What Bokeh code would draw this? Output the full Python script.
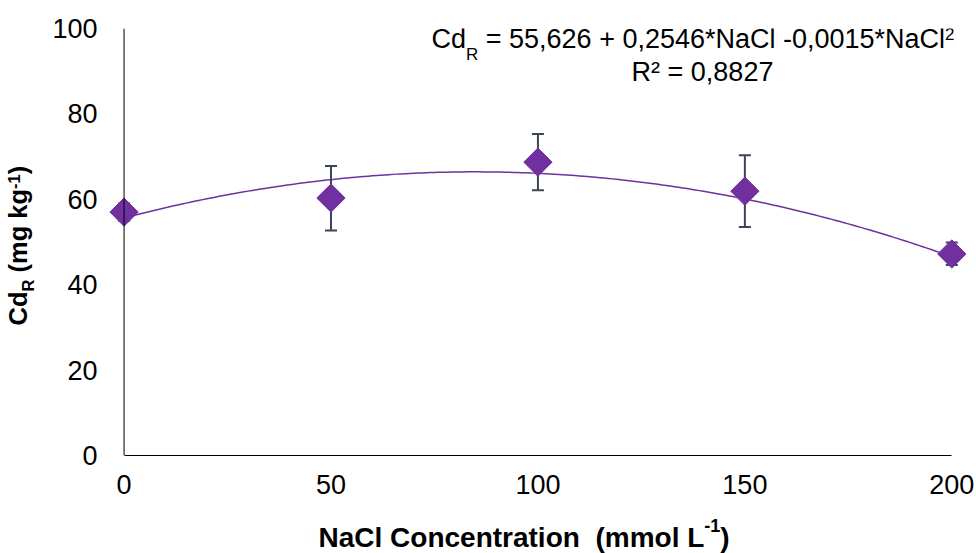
import numpy as np
from bokeh.plotting import figure
from bokeh.layouts import row, column
from bokeh.models import FixedTicker, Label, Span
from bokeh.embed import file_html
from bokeh.resources import INLINE

# ---- data ----
nacl = [0, 50, 100, 150, 200]
cd_r = [57.0, 60.3, 68.7, 61.9, 47.2]
err_low = [55.0, 52.7, 62.1, 53.5, 44.6]
err_high = [59.0, 67.8, 75.3, 70.3, 49.9]
x_ticks = [0, 50, 100, 150, 200]
y_ticks = [0, 20, 40, 60, 80, 100]
# quadratic trend line as printed on the chart
coef_a, coef_b, coef_c = 55.626, 0.2546, -0.0015
r2_text = "R² = 0,8827"
eq_text = "= 55,626 + 0,2546*NaCl -0,0015*NaCl"

PURPLE = "#7030A0"
ERR = "#3B4556"
FONT = "Liberation Sans"
BASE_FIX = 0.3       # em shift so that the label anchor sits on the baseline

PAGE_W, PAGE_H = 976, 553
LEFT_W = 42          # strip holding the y title
MAIN_H = 510         # main figure height; strip below holds the x title
W, H = PAGE_W - LEFT_W, MAIN_H
BL, BR, BT, BB = 65, 4, 28, 55
XR = (-4, 205)
YR = (0, 100)

p = figure(width=W, height=H, x_range=XR, y_range=YR,
           output_backend="svg", toolbar_location=None,
           min_border_left=BL, min_border_right=BR,
           min_border_top=BT, min_border_bottom=BB)
p.outline_line_color = None
p.xgrid.visible = False
p.ygrid.visible = False
p.background_fill_color = "white"
p.border_fill_color = "white"

fw = W - BL - BR
fh = H - BT - BB
sx = fw / (XR[1] - XR[0])
sy = fh / (YR[1] - YR[0])


def dx(px):
    return (px - LEFT_W - BL) / sx + XR[0]


def dy(py):
    return (H - BB - py) / sy + YR[0]


# trend line
xs = np.linspace(0, 200, 201)
ys = coef_a + coef_b * xs + coef_c * xs ** 2
p.line(xs, ys, line_color=PURPLE, line_width=1.5)

# error bars
p.segment(x0=nacl, y0=err_low, x1=nacl, y1=err_high, line_color=ERR, line_width=2)
p.scatter(x=nacl + nacl, y=err_low + err_high, marker="dash", size=12,
          line_color=ERR, line_width=2)

# diamonds
p.scatter(x=nacl, y=cd_r, marker="square", angle=np.pi / 4, size=20,
          fill_color=PURPLE, line_color=PURPLE)

# axes
p.xaxis.ticker = FixedTicker(ticks=x_ticks)
p.yaxis.ticker = FixedTicker(ticks=y_ticks)
for ax in (p.xaxis[0], p.yaxis[0]):
    ax.major_tick_line_color = None
    ax.minor_tick_line_color = None
    ax.major_tick_out = 0
    ax.major_tick_in = 0
    ax.minor_tick_out = 0
    ax.major_label_text_font = FONT
    ax.major_label_text_font_size = "27px"
    ax.major_label_text_color = "black"
p.xaxis.bounds = (0, 200)
p.xaxis.axis_line_color = "black"
p.xaxis.axis_line_width = 1
p.xaxis.major_label_standoff = 19
p.yaxis.axis_line_color = None
p.yaxis.major_label_standoff = 10
p.add_layout(Span(location=0, dimension="height", line_color="black", line_width=1))


def mk_label(fig, text, x, y, size, bold=False, angle=0.0, align="left"):
    fig.add_layout(Label(x=x, y=y, text=text, angle=angle,
                         text_font=FONT, text_font_size=f"{size}px",
                         text_font_style="bold" if bold else "normal",
                         text_color="black", text_align=align,
                         text_baseline="alphabetic"))


def lab(text, px, py, size, **kw):
    # px, py: page pixels of the wanted baseline start
    mk_label(p, text, dx(px), dy(py - BASE_FIX * size), size, **kw)


# equation (page pixel positions); widths from Arial/Liberation metrics
x0 = 431
lab("Cd", x0, 47, 27)
x1 = x0 + 1.278 * 27
lab("R", x1, 59, 17)
x2 = x1 + 0.722 * 17
lab(eq_text, x2 + 0.278 * 27, 47, 27)
x3 = x2 + 17.287 * 27
lab("2", x3, 39, 17)
lab(r2_text, 702, 80, 27, align="center")


def text_strip(w, h, bl=0, br=0):
    f = figure(width=w, height=h, x_range=(bl, w - br), y_range=(0, h),
               output_backend="svg", toolbar_location=None,
               x_axis_location=None, y_axis_location=None,
               min_border=0, min_border_left=bl, min_border_right=br,
               min_border_top=0, min_border_bottom=0)
    f.outline_line_color = None
    f.grid.visible = False
    f.background_fill_color = "white"
    f.border_fill_color = "white"
    return f


# y title strip (page x 0..LEFT_W, y 0..PAGE_H), reads bottom to top
left = text_strip(LEFT_W, PAGE_H)
a = np.pi / 2
YS, YSS = 25.5, 16.5


def ylab(text, base_x, py, size):
    mk_label(left, text, base_x - BASE_FIX * size, PAGE_H - py, size,
             bold=True, angle=a)


yy = 325
ylab("Cd", 25.5, yy, YS)
yy -= 1.333 * YS
ylab("R", 32, yy, YSS)
yy -= 0.722 * YSS + 0.278 * YS
ylab("(mg kg", 25.5, yy, YS)
yy -= 3.278 * YS
ylab("-1", 18.5, yy, YSS)
yy -= 0.889 * YSS
ylab(")", 25.5, yy, YS)

# x title strip (page x LEFT_W..PAGE_W, y MAIN_H..PAGE_H); frame aligned with main
bottom = text_strip(W, PAGE_H - MAIN_H, BL, BR)


def xlab(text, px, py, size):
    mk_label(bottom, text, px - LEFT_W, PAGE_H - (py - BASE_FIX * size), size,
             bold=True)


XS, XSS = 28, 18
xx = 318
xlab("NaCl Concentration", xx, 545, XS)
xx += (9.334 + 0.556) * XS
xlab("(mmol L", xx, 545, XS)
xx += 3.889 * XS
xlab("-1", xx, 530, XSS)
xx += 0.889 * XSS
xlab(")", xx, 545, XS)

layout = row(left, column(p, bottom, spacing=0), spacing=0)
open("out.html", "w").write(file_html(layout, INLINE))
